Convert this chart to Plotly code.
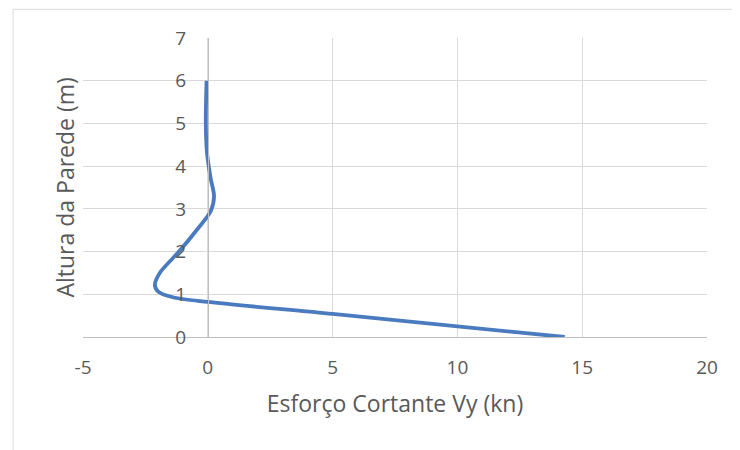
import plotly.graph_objects as go

# Data
shear_vy = [14.3, 5.0, 0.0, -1.4, -2.0, -2.12, -1.9, -1.2, -0.45, 0.12, 0.25, 0.12,
            -0.03, -0.08, -0.05]
wall_height = [0.0, 0.54, 0.82, 0.93, 1.07, 1.22, 1.52, 1.97, 2.5, 2.95, 3.3, 3.7,
               4.3, 5.0, 6.0]

x_ticks = [-5, 0, 5, 10, 15, 20]
y_ticks = [0, 1, 2, 3, 4, 5, 6, 7]

x_title = "Esforço Cortante Vy (kn)"
y_title = "Altura da Parede (m)"

TXT = "#595959"
GRID = "#d9d9d9"
AXIS = "#bfbfbf"
FONT = "Open Sans"

fig = go.Figure()
fig.add_trace(go.Scatter(
    x=shear_vy, y=wall_height, mode="lines",
    line=dict(color="#4a7bbf", width=3.8, shape="spline", smoothing=0.8),
    showlegend=False, hoverinfo="x+y",
))

fig.update_layout(
    width=740, height=450,
    margin=dict(l=75, r=41, t=30, b=121),
    paper_bgcolor="white", plot_bgcolor="white",
    font=dict(family=FONT, color=TXT, size=19),
    xaxis=dict(
        range=[-5, 20], tickvals=x_ticks, ticktext=[str(v) for v in x_ticks],
        showgrid=True, gridcolor=GRID, gridwidth=1,
        zeroline=False, showline=True, linecolor=AXIS, linewidth=1,
        ticks="", ticklabelstandoff=13,
        tickfont=dict(family=FONT, size=19, color=TXT),
        title=dict(text=x_title, font=dict(family=FONT, size=23, color=TXT), standoff=17),
    ),
    yaxis=dict(
        range=[0, 7], tickvals=y_ticks, ticktext=[str(v) for v in y_ticks],
        anchor="free", position=0.2,
        showgrid=True, gridcolor=GRID, gridwidth=1,
        zeroline=False, showline=True, linecolor=AXIS, linewidth=1,
        ticks="", ticklabelstandoff=18,
        tickfont=dict(family=FONT, size=19, color=TXT),
    ),
    annotations=[dict(
        text=y_title, textangle=-90, xref="paper", yref="paper",
        x=-0.0304, y=0.5, xanchor="center", yanchor="middle", showarrow=False,
        font=dict(family=FONT, size=23, color=TXT),
    )],
    shapes=[dict(
        type="rect", xref="paper", yref="paper",
        x0=-0.112, x1=1.07, y0=-0.45, y1=1.096,
        line=dict(color=GRID, width=1), fillcolor="rgba(0,0,0,0)", layer="below",
    )],
)

fig.write_html("out.html")
